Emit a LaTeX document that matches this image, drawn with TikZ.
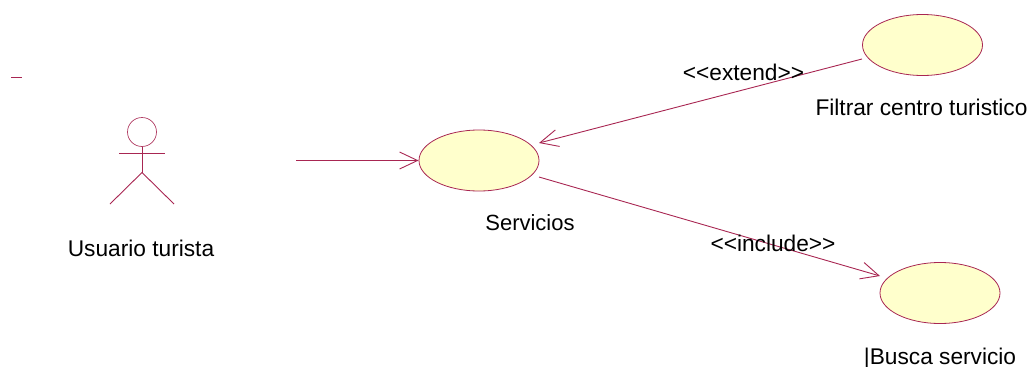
\documentclass[tikz,border=0pt]{standalone}
\usepackage{fontspec}
\setmainfont{Liberation Sans}
\usetikzlibrary{shapes.geometric,arrows.meta}
\definecolor{rose}{HTML}{990033}
\definecolor{usefill}{HTML}{FFFFCC}
\tikzset{
  usecase/.style={ellipse,draw=rose!85,fill=usefill,line width=0.8pt,inner sep=0pt,minimum width=120pt,minimum height=61pt},
  lbl/.style={font=\fontsize{22.7}{26}\selectfont,text=black,inner sep=0pt,anchor=base},
  lblsmall/.style={lbl,font=\fontsize{22}{26}\selectfont},
  link/.style={draw=rose!85,line width=0.9pt,-{Straight Barb[length=18pt,width=17pt,line width=0.9pt]}},
  figure/.style={draw=rose!85,line width=0.9pt}
}
\begin{document}
\begin{tikzpicture}[x=1pt,y=-1pt]
\useasboundingbox (0,0) rectangle (1029,367);
% use cases
\node[usecase] (serv) at (479,160.5) {};
\node[usecase] (filt) at (922.5,45) {};
\node[usecase] (busc) at (940,293) {};
% actor
\node[circle,draw=rose!75,line width=0.7pt,inner sep=0pt,minimum size=29pt] (head) at (142,132) {};
\coordinate (hip) at (142,172.5);
\coordinate (armL) at (119,153.5);
\coordinate (armR) at (165,153.5);
\coordinate (legL) at (110,204);
\coordinate (legR) at (174,204);
\draw[figure] (head.south) -- (hip);
\draw[figure] (armL) -- (armR);
\draw[figure] (legL) -- (hip) -- (legR);
% stray mark
\coordinate (markA) at (11,77);
\coordinate (markB) at (22,77);
\draw[figure] (markA) -- (markB);
% connectors
\coordinate (actorEnd) at (296,160.5);
\coordinate (servE) at (539,143);
\coordinate (servS) at (539,177);
\coordinate (filtW) at (862,59);
\coordinate (buscW) at (880,276);
\draw[link] (actorEnd) -- (serv.west);
\draw[link] (filtW) -- (servE);
\draw[link] (servS) -- (buscW);
% labels
\node[lbl] (tA) at (141,256.5) {Usuario turista};
\node[lblsmall] (tS) at (530,230) {Servicios};
\node[lbl] (tF) at (921.5,115.5) {Filtrar centro turistico};
\node[lbl] (tB) at (940,364) {|Busca servicio};
\node[lbl] (tE) at (743.5,80) {<{}<extend>{}>};
\node[lbl] (tI) at (773,251) {<{}<include>{}>};
\end{tikzpicture}
\end{document}
